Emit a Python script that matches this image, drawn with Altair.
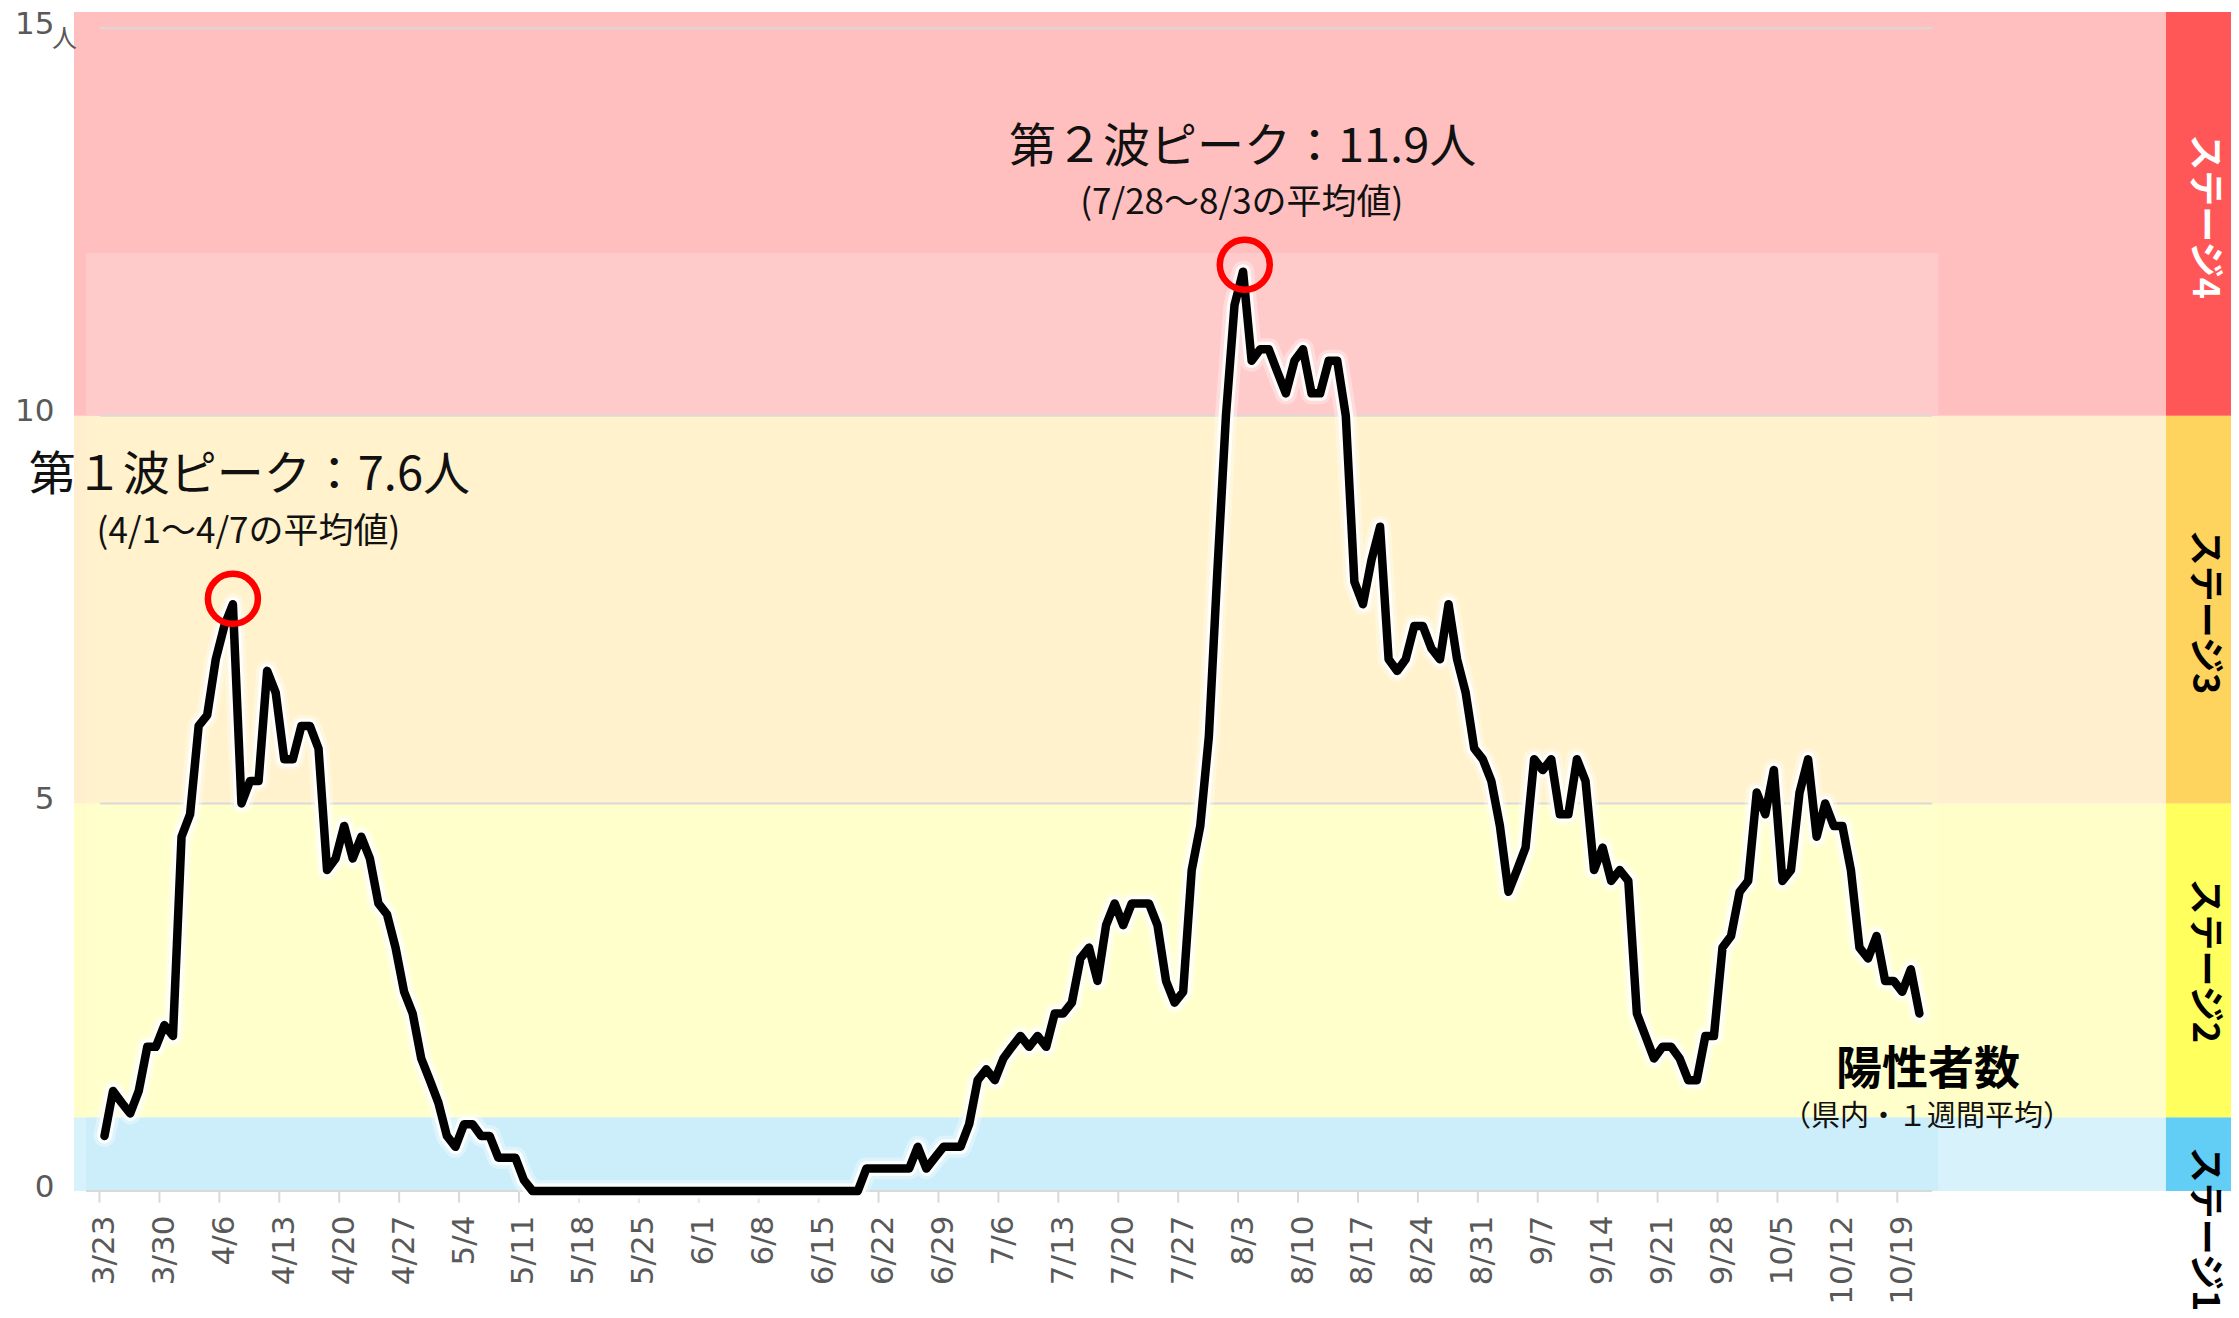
import json
import altair as alt
import pandas as pd

# ---- data (7-day average of positives, from 3/23) ----
values = [
    0.71, 1.29, 1.14, 1.00, 1.29, 1.86, 1.86, 2.14, 2.00, 4.57,
    4.86, 6.00, 6.14, 6.86, 7.29, 7.57, 5.00, 5.29, 5.29, 6.71,
    6.43, 5.57, 5.57, 6.00, 6.00, 5.71, 4.14, 4.29, 4.71, 4.29,
    4.57, 4.29, 3.71, 3.57, 3.14, 2.57, 2.29, 1.71, 1.43, 1.14,
    0.71, 0.57, 0.86, 0.86, 0.71, 0.71, 0.43, 0.43, 0.43, 0.14,
    0.00,
    0.00, 0.00, 0.00, 0.00, 0.00, 0.00, 0.00, 0.00, 0.00, 0.00,
    0.00, 0.00, 0.00, 0.00, 0.00, 0.00, 0.00, 0.00, 0.00, 0.00,
    0.00, 0.00, 0.00, 0.00, 0.00, 0.00, 0.00, 0.00, 0.00, 0.00,
    0.00, 0.00, 0.00, 0.00, 0.00, 0.00, 0.00, 0.00,
    0.29, 0.29, 0.29, 0.29, 0.29, 0.29, 0.57, 0.29, 0.43, 0.57,
    0.57, 0.57, 0.86, 1.43, 1.57, 1.43, 1.71, 1.86, 2.00, 1.86,
    2.00, 1.86, 2.29, 2.29, 2.43, 3.00, 3.14, 2.71, 3.43, 3.71,
    3.43, 3.71, 3.71, 3.71, 3.43, 2.71, 2.43, 2.57, 4.14, 4.71,
    5.86, 8.00, 10.00, 11.43,
    11.86, 10.71, 10.86, 10.86, 10.57, 10.29, 10.71, 10.86, 10.29, 10.29,
    10.71, 10.71, 10.00, 7.86, 7.57, 8.14, 8.57, 6.86, 6.71, 6.86,
    7.29, 7.29, 7.00, 6.86, 7.57, 6.86, 6.43, 5.71, 5.57, 5.29,
    4.71, 3.86, 4.14, 4.43, 5.57, 5.43, 5.57, 4.86, 4.86, 5.57,
    5.29, 4.14, 4.43, 4.00, 4.14, 4.00,
    2.29, 2.00, 1.71, 1.86, 1.86, 1.71, 1.43, 1.43, 2.00, 2.00,
    3.14, 3.29, 3.86, 4.00, 5.14, 4.86, 5.43, 4.00, 4.14, 5.14,
    5.57, 4.57, 5.00, 4.71, 4.71, 4.14, 3.14, 3.00, 3.29, 2.71,
    2.71, 2.57, 2.86, 2.29,
]
days = list(range(len(values)))

week_labels = ["3/23", "3/30", "4/6", "4/13", "4/20", "4/27", "5/4", "5/11",
               "5/18", "5/25", "6/1", "6/8", "6/15", "6/22", "6/29", "7/6",
               "7/13", "7/20", "7/27", "8/3", "8/10", "8/17", "8/24", "8/31",
               "9/7", "9/14", "9/21", "9/28", "10/5", "10/12", "10/19"]
week_days = list(range(0, 7 * len(week_labels), 7))

# stage bands
band_lo = [0, 0.95, 5, 10]
band_hi_pattern = [0.95, 5, 10, 15.21]
band_hi_solid = [0.95, 5, 10, 12.1]
pattern_colors = ["#D8F2FC", "#FFFDC8", "#FFEFCF", "#FFBFBF"]
solid_colors = ["#CCEEFA", "#FFFFCC", "#FFF2CC", "#FFCACA"]
stage_colors = ["#62CDF5", "#FFFF5E", "#FFD45E", "#FF5757"]
stage_names = ["ステージ1", "ステージ2", "ステージ3", "ステージ4"]
stage_label_y = [0.57, 2.97, 7.47, 12.57]
stage_label_color = ["#000000", "#000000", "#000000", "#FFFFFF"]
stage_label_align = ["left", "center", "center", "center"]

peak_days = [15, 133.2]
peak_circle_y = [7.64, 11.95]

X_DOMAIN = [-3.56, 248.4]
Y_DOMAIN = [0, 15.21]
PATTERN_X = [-3.56, 240.8]
SOLID_X = [-2.16, 214.2]
STAGE_X = [240.8, 248.4]

CJK = "Noto Sans CJK JP"
LAB = "DejaVu Sans"

xscale = alt.Scale(domain=X_DOMAIN, nice=False, zero=False)
yscale = alt.Scale(domain=Y_DOMAIN, nice=False, zero=False)

label_expr = json.dumps(week_labels) + "[round(datum.value / 7)]"
x_axis = alt.Axis(values=week_days, labelExpr=label_expr, labelAngle=-90,
                  labelFont=LAB, labelFontSize=31, labelColor="#595959",
                  ticks=False, tickSize=0, domain=False, grid=False,
                  labelPadding=24, title=None, labelOverlap=False)
y_axis = alt.Axis(values=[0, 5, 10, 15], labelFont=LAB, labelFontSize=31,
                  labelColor="#595959", ticks=False, tickSize=0, domain=False,
                  grid=False, labelPadding=20, labelOffset=-4, title=None)


def X(field):
    return alt.X(field, type="quantitative", scale=xscale, axis=x_axis)


def Y(field):
    return alt.Y(field, type="quantitative", scale=yscale, axis=y_axis)


# band rectangles
rows = []
for i in range(4):
    rows.append(dict(x1=PATTERN_X[0], x2=PATTERN_X[1], y1=band_lo[i],
                     y2=band_hi_pattern[i], fill=pattern_colors[i], order=0))
for i in range(4):
    rows.append(dict(x1=SOLID_X[0], x2=SOLID_X[1], y1=band_lo[i],
                     y2=band_hi_solid[i], fill=solid_colors[i], order=1))
for i in range(4):
    rows.append(dict(x1=STAGE_X[0], x2=STAGE_X[1], y1=band_lo[i],
                     y2=band_hi_pattern[i], fill=stage_colors[i], order=2))
bands_df = pd.DataFrame(rows)

bands = alt.Chart(bands_df).mark_rect(strokeWidth=0).encode(
    x=X("x1"), x2="x2", y=Y("y1"), y2="y2",
    color=alt.Color("fill:N", scale=None),
    order="order:Q",
)

# gridlines, baseline, ticks
grid_df = pd.DataFrame({"y": [5, 10, 15], "xa": [-0.5] * 3, "xb": [213.5] * 3})
grid = alt.Chart(grid_df).mark_rule(color="#D9D9D9", strokeWidth=2).encode(
    x=X("xa"), x2="xb", y=Y("y"))
base_df = pd.DataFrame({"y": [0], "xa": [SOLID_X[0]], "xb": [213.5]})
baseline = alt.Chart(base_df).mark_rule(color="#D9D9D9", strokeWidth=2).encode(
    x=X("xa"), x2="xb", y=Y("y"))
tick_df = pd.DataFrame({"x": [d - 0.58 for d in week_days],
                        "ya": [0.0] * len(week_days),
                        "yb": [-0.15] * len(week_days)})
ticks = alt.Chart(tick_df).mark_rule(color="#D9D9D9", strokeWidth=2).encode(
    x=X("x"), y=Y("ya"), y2="yb")

# the series line with white glow
line_df = pd.DataFrame({"d": days, "v": values})
glow1 = alt.Chart(line_df).mark_line(color="white", strokeWidth=22, opacity=0.35,
                                      strokeJoin="round", strokeCap="round").encode(
    x=X("d"), y=Y("v"))
glow2 = alt.Chart(line_df).mark_line(color="white", strokeWidth=15, opacity=0.85,
                                      strokeJoin="round", strokeCap="round").encode(
    x=X("d"), y=Y("v"))
line = alt.Chart(line_df).mark_line(color="black", strokeWidth=8.5,
                                     strokeJoin="round", strokeCap="round").encode(
    x=X("d"), y=Y("v"))

# peak circles
peak_df = pd.DataFrame({"d": peak_days, "v": peak_circle_y})
circles = alt.Chart(peak_df).mark_point(shape="circle", size=2500, filled=False,
                                         stroke="#FF0000", strokeWidth=6.5,
                                         opacity=1).encode(x=X("d"), y=Y("v"))

# annotation texts
def text_layer(txt, d, v, size, weight="normal", color="#111111", font=CJK,
               align="center", angle=0):
    df = pd.DataFrame({"d": [d], "v": [v], "t": [txt]})
    kw = dict(font=font, fontSize=size, fontWeight=weight, color=color,
              align=align, baseline="middle")
    if angle:
        kw["angle"] = angle
    return alt.Chart(df).mark_text(**kw).encode(x=X("d"), y=Y("v"), text="t:N")


texts = [
    text_layer("第１波ピーク：7.6人", 16.93, 9.22, 47),
    text_layer("(4/1～4/7の平均値)", 16.82, 8.50, 35),
    text_layer("第２波ピーク：11.9人", 132.94, 13.45, 47),
    text_layer("(7/28～8/3の平均値)", 132.85, 12.74, 35),
    text_layer("陽性者数", 213.0, 1.56, 46, weight="bold", color="#000000"),
    text_layer("（県内・１週間平均）", 212.9, 0.955, 29),
    text_layer("人", -4.67, 14.86, 25, color="#595959"),
]
for i in range(4):
    texts.append(text_layer(stage_names[i], 245.2, stage_label_y[i], 36,
                            weight="bold", color=stage_label_color[i],
                            align=stage_label_align[i], angle=90))

chart = alt.layer(
    bands, grid, baseline, ticks, glow1, glow2, line, circles, *texts
).properties(
    width=2157, height=1179,
    padding={"left": 66, "top": 4, "right": 0, "bottom": 118},
    autosize=alt.AutoSizeParams(type="none"),
    background="white",
).configure_view(stroke=None)

chart.save("out.html", embed_options={"renderer": "svg", "actions": False})
